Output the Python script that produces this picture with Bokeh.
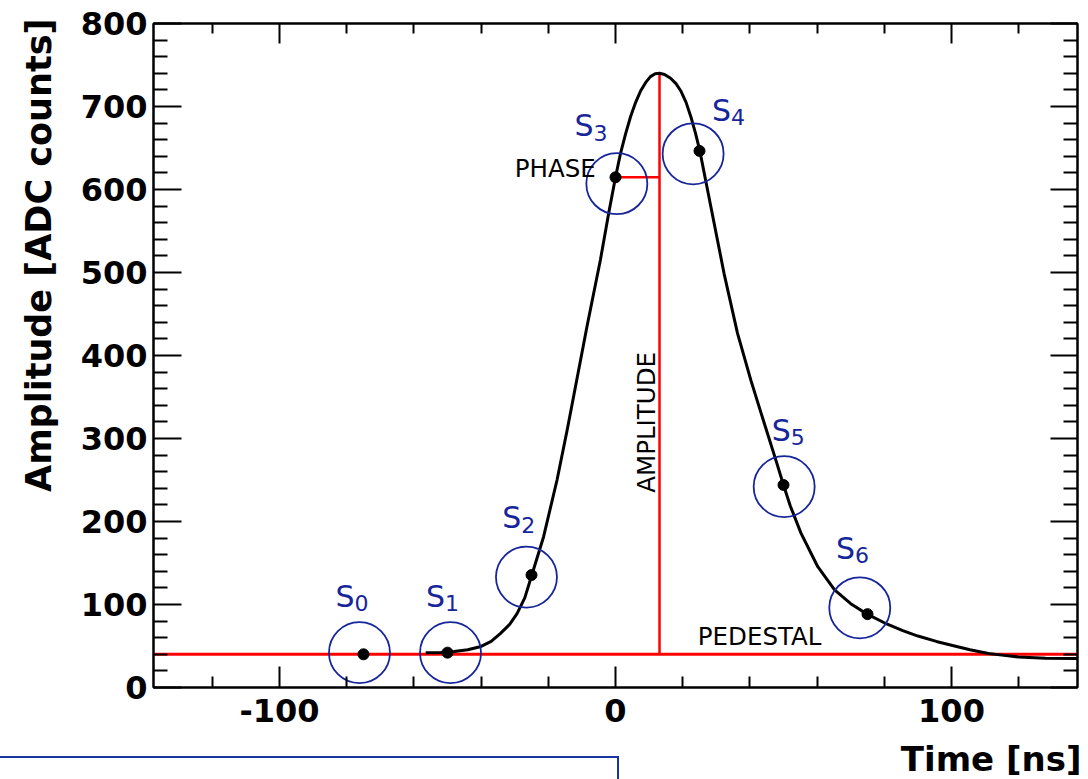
from bokeh.plotting import figure
from bokeh.models import (LinearAxis, FixedTicker, Range1d, ColumnDataSource, Label,
                          CustomJSTickFormatter, InlineStyleSheet)
from bokeh.core.properties import value
from bokeh.embed import file_html
from bokeh.resources import INLINE
import math

# ---------------- data ----------------
sample_t = [-75, -50, -25, 0, 25, 50, 75]
sample_adc = [40, 42, 135.5, 614.7, 646.5, 244, 88.4]
sample_sub = ["0", "1", "2", "3", "4", "5", "6"]

ring_t = [-76.2, -49.1, -26.5, 0.4, 23.1, 50.2, 72.7]
ring_adc = [42, 42, 133, 607, 643, 242, 96]

label_t = [-83.3, -56.4, -33.7, -12.2, 28.7, 46.5, 65.6]
label_adc = [98, 98, 192.5, 664.5, 683.7, 298, 155.7]

pulse_t = [-56.5, -52, -48, -44, -40.3, -37, -34.3, -31.5, -29.3, -27, -24.9,
           -21.4, -17.4, -14.4, -12.4, -8.5, -4.5, -2, 0, 1.5, 3, 4.5, 6, 7.5,
           9, 10.4, 11.8, 13.1, 14.6, 16.4, 18, 19.4, 21, 22.4, 23.8, 25.1,
           28.4, 32.3, 36.3, 40.3, 44.3, 47.8, 50, 52, 55.2, 60.2, 65.2, 70,
           74.9, 80, 85.5, 90, 95.5, 100, 105.5, 111, 115, 120, 128, 137.5]
pulse_adc = [42, 42.2, 43.3, 45.5, 49, 55.5, 65, 76, 89, 108, 135.5,
             181.7, 250, 310, 352, 434.7, 515, 572, 614.7, 643.6, 667, 688, 705, 719,
             729, 736, 739.5, 740, 738.5, 734, 727.5, 719, 705, 688, 668, 646.5,
             579, 499, 427, 370, 318, 273, 244, 219, 186, 145.5, 117.5, 101,
             88.4, 78, 68.5, 62, 55.5, 51, 45.5, 41, 39, 36.8, 35.3, 34.8]

pedestal = 40
peak_t = 13.1
peak_adc = 740
phase_t = 0
phase_adc = 614.7

x_major = [-100, 0, 100]
x_minor = [-120, -80, -60, -40, -20, 20, 40, 60, 80, 120]
y_major = [0, 100, 200, 300, 400, 500, 600, 700, 800]
y_minor = [v for v in range(0, 801, 20) if v % 100]

x_title = "Time [ns]"
y_title = "Amplitude [ADC counts]"

# ---------------- figure ----------------
BLUE = "#16269a"
FONT = value("DejaVu Sans")

p = figure(width=1088, height=779, x_range=Range1d(-137.5, 137.5), y_range=Range1d(0, 800),
           output_backend="svg", toolbar_location=None,
           min_border_left=153, min_border_right=11, min_border_top=23, min_border_bottom=92)
p.background_fill_color = "white"
p.border_fill_color = "white"
p.outline_line_color = "black"
p.outline_line_width = 2
p.xgrid.visible = False
p.ygrid.visible = False

xa = p.xaxis[0]
ya = p.yaxis[0]
xa.ticker = FixedTicker(ticks=x_major, minor_ticks=x_minor)
ya.ticker = FixedTicker(ticks=y_major, minor_ticks=y_minor)
xa.formatter = CustomJSTickFormatter(code="return tick.toString()")
for ax in (xa, ya):
    ax.axis_line_width = 2
    ax.axis_line_color = "black"
    ax.major_tick_line_width = 2
    ax.minor_tick_line_width = 2
    ax.major_tick_out = 0
    ax.minor_tick_out = 0
    ax.major_label_text_font = "DejaVu Sans"
    ax.major_label_text_font_style = "bold"
    ax.major_label_text_font_size = "32px"
    ax.major_label_text_color = "black"
xa.major_tick_in = 21
xa.minor_tick_in = 11
ya.major_tick_in = 28
ya.minor_tick_in = 14
xa.major_label_standoff = 11
ya.major_label_standoff = 6

top = LinearAxis(ticker=FixedTicker(ticks=x_major, minor_ticks=x_minor))
right = LinearAxis(ticker=FixedTicker(ticks=y_major, minor_ticks=y_minor))
for ax, mj, mn in ((top, 20, 10), (right, 27, 14)):
    ax.axis_line_width = 2
    ax.major_tick_line_width = 2
    ax.minor_tick_line_width = 2
    ax.major_tick_out = 0
    ax.minor_tick_out = 0
    ax.major_tick_in = mj
    ax.minor_tick_in = mn
    ax.major_label_text_color = None
    ax.major_label_text_font_size = "1px"
    ax.major_label_standoff = 0
p.add_layout(top, "above")
p.add_layout(right, "right")

# axis titles, right/top aligned like the original
p.add_layout(Label(x=-171.5, y=806, x_units="data", y_units="data", text=y_title,
                   text_align="right", text_baseline="alphabetic", angle=math.pi / 2,
                   text_font="DejaVu Sans", text_font_style="bold", text_font_size="35px",
                   text_color="black"), "left")
p.add_layout(Label(x=137.5, y=-86.7, x_units="data", y_units="data", text=x_title,
                   text_align="right", text_baseline="alphabetic", x_offset=4,
                   text_font="DejaVu Sans", text_font_style="bold", text_font_size="34px",
                   text_color="black"), "below")

# red construction lines
p.segment(x0=[-137.5], y0=[pedestal], x1=[137.5], y1=[pedestal], line_color="red", line_width=3)
p.segment(x0=[peak_t], y0=[pedestal], x1=[peak_t], y1=[peak_adc], line_color="red", line_width=2.5)
p.segment(x0=[phase_t], y0=[phase_adc], x1=[peak_t], y1=[phase_adc], line_color="red", line_width=2.5)

# pulse curve
p.line(pulse_t, pulse_adc, line_color="black", line_width=3, line_join="round")

# samples
p.scatter(sample_t, sample_adc, size=11, marker="circle", fill_color="black", line_color="black")
p.scatter(ring_t, ring_adc, size=61, marker="circle", fill_color=None, line_color=BLUE, line_width=1.8)

src = ColumnDataSource(dict(x=label_t, y=label_adc, s=["S"] * len(label_t), sub=sample_sub))
p.text(x="x", y="y", text="s", source=src, text_font=FONT, text_font_size="30px",
       text_color=BLUE, text_align="left", text_baseline="alphabetic", y_offset=-10)
p.text(x="x", y="y", text="sub", source=src, text_font=FONT, text_font_size="22px",
       text_color=BLUE, text_align="left", text_baseline="alphabetic", x_offset=19, y_offset=-3)

p.text(x=[-30.0], y=[615.4], text=["PHASE"], text_font=FONT, text_font_size="24.5px",
       text_color="black", text_align="left", text_baseline="alphabetic", y_offset=-8)
p.text(x=[24.5], y=[50.4], text=["PEDESTAL"], text_font=FONT, text_font_size="24.5px",
       text_color="black", text_align="left", text_baseline="alphabetic", y_offset=-9)
p.text(x=[11.9], y=[234.7], text=["AMPLITUDE"], text_font=FONT, text_font_size="24.5px",
       text_color="black", text_align="left", text_baseline="alphabetic",
       angle=math.pi / 2, x_offset=-9)

# partially visible blue frame below the plot (cropped in the original)
p.stylesheets = [InlineStyleSheet(css="""
:host { position: relative; }
:host::after { content: ""; position: absolute; left: 0px; top: 756px; width: 619px; height: 23px;
  border-top: 2px solid #1a35a0; border-right: 2px solid #1a35a0; box-sizing: border-box;
  pointer-events: none; }
""")]

open("out.html", "w").write(file_html(p, INLINE))
